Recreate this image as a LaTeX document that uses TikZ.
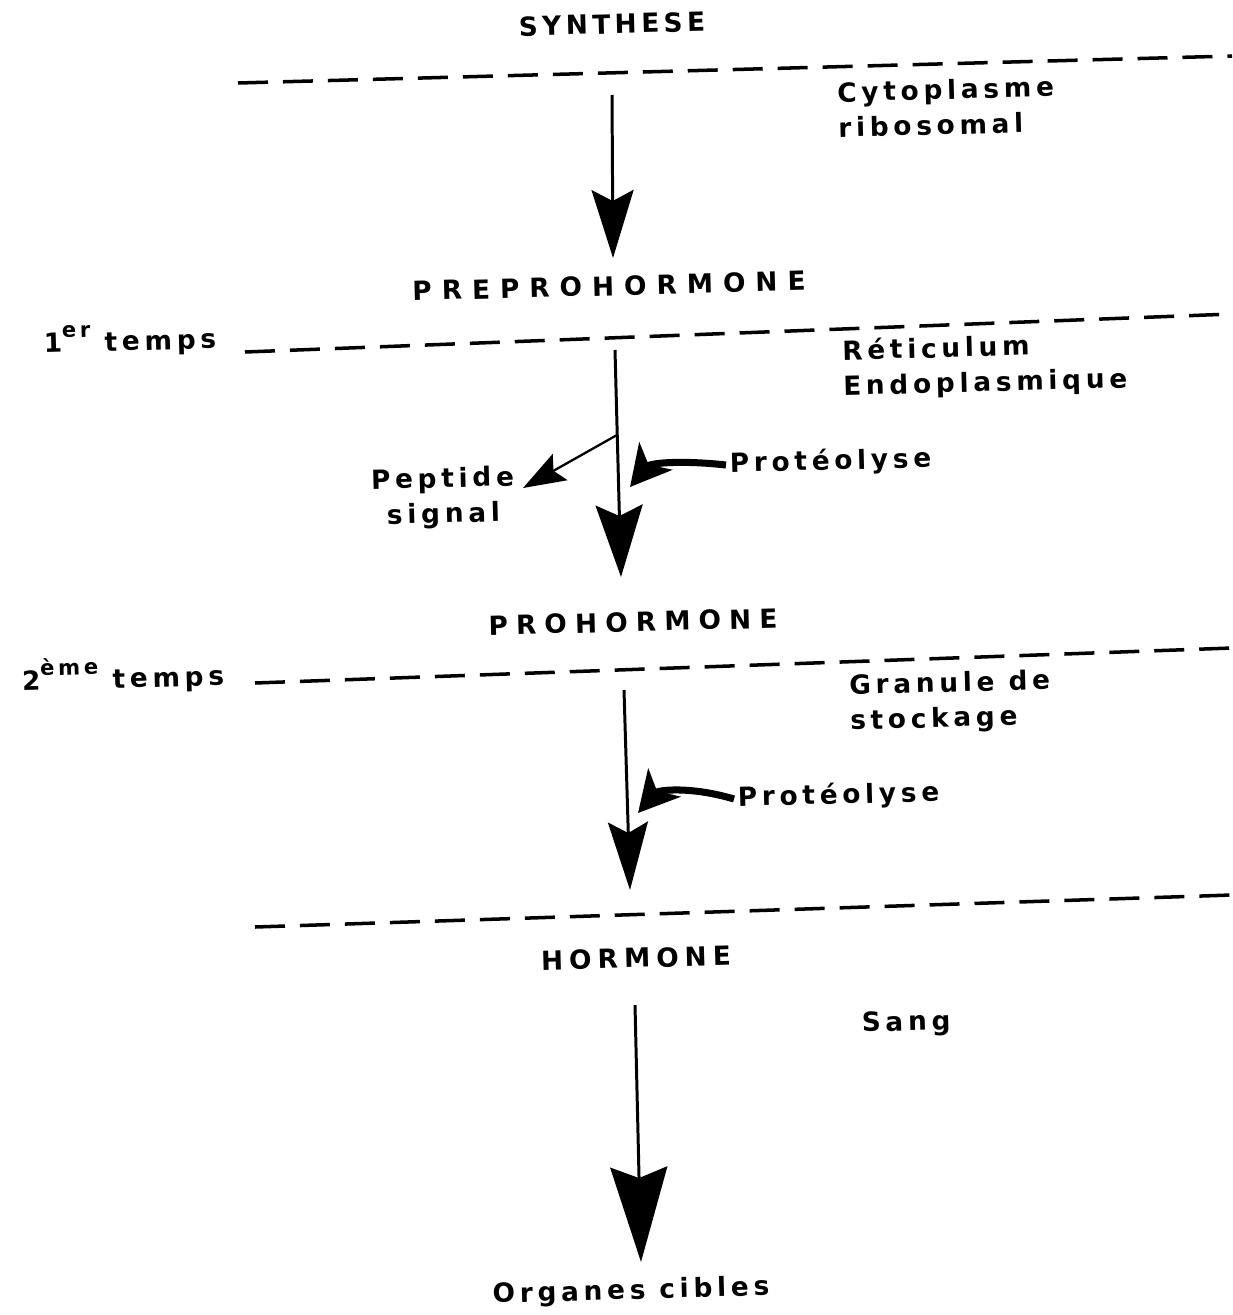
\documentclass[tikz,border=0pt]{standalone}
\usepackage{fontspec}
\usetikzlibrary{arrows.meta}
\newfontfamily\etiqfont{DejaVu Sans Bold}
\newcommand{\expo}[1]{\raisebox{0.55em}{\fontsize{12}{12}\selectfont #1}}

\begin{document}
\begin{tikzpicture}[x=0.02cm, y=-0.02cm,
  lab/.style={font=\etiqfont\fontsize{15}{20}\selectfont\addfontfeature{LetterSpace=18}, inner sep=2pt, rotate=1.5, align=left},
  titre/.style={font=\etiqfont\fontsize{15}{16}\selectfont\addfontfeature{LetterSpace=#1}, inner sep=2pt, rotate=1.5},
  sep/.style={line width=2pt, dash pattern=on 0.6cm off 0.3cm},
  flux/.style 2 args={line width=1.7pt, -{Stealth[length=#1, width=#2, inset=0.22cm]}},
  proteo/.style={line width=4pt, -{Stealth[length=0.8cm, width=0.85cm, inset=0.22cm]}}]
 \useasboundingbox (0,0) rectangle (1232,1315); %cadre

 % textes
 \node[titre=17] (syn) at (612,24) {SYNTHESE};
 \node[titre=38] (prepro) at (609,286) {PREPROHORMONE};
 \node[titre=31] (pro) at (633,622) {PROHORMONE};
 \node[titre=23] (horm) at (636,958) {HORMONE};
 \node[lab, anchor=west] (cyto) at (834,110) {Cytoplasme\\ribosomal};
 \node[lab, anchor=west] (reti) at (839,370) {Réticulum\\Endoplasmique};
 \node[lab, anchor=west] (gran) at (846,705) {Granule de\\stockage};
 \node[lab, anchor=west] (sang) at (858,1025) {Sang};
 \node[lab, align=center] (pep) at (443,498) {Peptide\\signal};
 \node[lab, anchor=west] (prot1) at (726,465) {Protéolyse};
 \node[lab, anchor=west] (prot2) at (734,799) {Protéolyse};
 \node[lab] (temps1) at (130,340) {1\expo{er} temps};
 \node[lab] (temps2) at (123,675) {2\expo{ème} temps};
 \node[lab] (cibles) at (631,1292) {Organes cibles};

 % lignes de separation
 \draw[sep] (238,83)--(1232,56);
 \draw[sep] (245,352)--(1232,314);
 \draw[sep] (255,683)--(1232,648);
 \draw[sep] (255,927)--(1232,895);

 % fleches principales
 \coordinate (a1) at (612,95);
 \coordinate (b1) at (613,258);
 \coordinate (a2) at (615,350);
 \coordinate (b2) at (621,577);
 \coordinate (a3) at (624,690);
 \coordinate (b3) at (630,890);
 \coordinate (a4) at (635,1005);
 \coordinate (b4) at (641,1262);
 \draw[flux={1.36cm}{0.84cm}] (a1)--(b1);
 \draw[flux={1.44cm}{0.94cm}] (a2)--(b2);
 \draw[flux={1.36cm}{0.80cm}] (a3)--(b3);
 \draw[flux={1.9cm}{1.14cm}] (a4)--(b4);

 % peptide signal
 \coordinate (br) at (617,435);
 \coordinate (pt) at (523,488);
 \draw[line width=1.3pt, -{Stealth[length=0.85cm, width=0.6cm, inset=0.15cm]}] (br)--(pt);

 % proteolyse
 \coordinate (h1) at (630,487);
 \coordinate (h2) at (638,813);
 \draw[proteo] (prot1.west) .. controls (680,460) and (650,463) .. (h1);
 \draw[proteo] (prot2.west) .. controls (690,786) and (658,790) .. (h2);
\end{tikzpicture}
\end{document}
